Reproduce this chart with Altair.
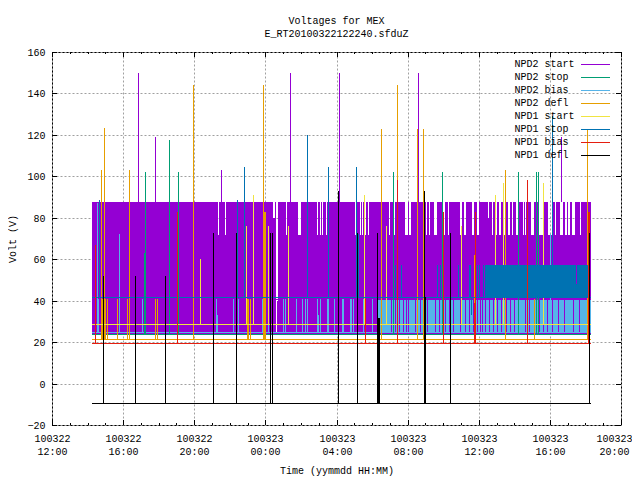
import altair as alt
import pandas as pd

FONT = "Liberation Mono"
START, END = 14.25, 42.30
PURPLE, GREEN, SKY, ORANGE = "#9400D3", "#009E73", "#56B4E9", "#E69F00"
YELLOW, BLUE, RED, BLACK = "#F0E442", "#0072B2", "#E51E10", "#000000"

names = ["NPD2 start", "NPD2 stop", "NPD2 bias", "NPD2 defl", "NPD1 start", "NPD1 stop", "NPD1 bias", "NPD1 defl"]
colors = [PURPLE, GREEN, SKY, ORANGE, YELLOW, BLUE, RED, BLACK]

# NPD2 start: dense band with gaps in its upper part
band_low, band_mid, band_top = 24.2, 71.7, 87.6
top_gaps = [(21.34,21.40,71.7),(21.73,21.79,71.7),(24.43,24.55,80),(24.60,24.71,40),(24.60,24.66,25),
            (25.16,25.22,71.7),(25.83,26.00,71.7),(26.90,26.96,71.7),(27.07,27.13,71.7),(27.18,27.24,71.7),
            (27.41,27.47,71.7),(29.04,29.17,71.7),(29.32,29.38,71.7),(29.43,29.51,71.7),(29.62,29.68,71.7),
            (29.79,29.83,71.7),(30.95,31.01,71.7),(31.23,31.31,71.7),(31.85,32.04,71.7),(32.10,32.17,71.7),
            (33.03,33.11,71.7),(33.20,33.26,71.7),(33.50,33.67,71.7),(34.01,34.08,71.7),(34.29,34.35,71.7),
            (34.95,35.06,71.7),(35.17,35.28,71.7),(35.62,35.75,71.7),(35.88,36.03,71.7),(36.54,36.58,80),
            (36.75,36.82,71.7),(36.93,37.01,71.7),(37.16,37.27,71.7),(37.38,37.53,71.7),(37.63,37.76,71.7),
            (37.85,37.95,71.7),(38.09,38.19,71.7),(38.47,38.54,71.7),(38.62,38.66,71.7),(38.92,39.11,71.7),
            (39.20,39.26,71.7),(39.37,39.67,71.7),(39.91,40.19,71.7),(40.29,40.35,71.7),(40.57,40.72,71.7),
            (40.85,40.94,71.7),(41.04,41.13,71.7),(41.26,41.41,71.7),(41.69,41.77,71.7)]
purple_spikes = [(16.85,150),(17.79,119),(21.50,103),(25.39,150),(28.14,150),(32.58,150),(40.63,119)]

# NPD2 bias
sky_base, sky_fill_top, sky_fill_from = 24.7, 40.7, 30.35
sky_spikes = [(14.61,41),(15.79,72),(17.04,41),(21.24,41),(21.29,33),(22.2,41),(22.48,41),(23.83,41),(24.13,41),
              (25.01,41),(25.10,41),(25.74,41),(26.08,41),(26.23,41),(26.36,41),(26.92,41),(26.97,33),(27.07,41),
              (27.45,41),(27.50,41),(27.88,41),(28.39,41),(28.31,41),(28.76,41),(28.81,41),(28.91,41),(29.51,41),(30.0,41),
              (14.53,87),(40.03,72)]
sky_gaps = [31.05,31.29,31.50,31.76,31.91,32.04,32.42,32.70,33.11,33.56,33.75,33.92,34.12,34.33,34.53,34.96,35.23,
            35.47,35.70,35.92,36.09,36.17,36.37,36.56,36.82,37.05,37.27,37.51,37.76,38.00,38.23,38.60,38.85,39.41,
            39.60,39.86,40.10,40.48,40.79,41.32,41.64]

# NPD2 stop
green_base = 23.8
green_spikes = [(17.25,102),(17.17,63),(17.20,63),(18.60,117.5),(19.10,102),(31.20,102),(33.95,102),(38.22,102),(39.24,102),(39.35,102)]

# NPD2 defl
orange_base = 21.4
orange_spikes = [(14.94,123.3),(14.77,103),(16.35,103),(19.95,144),(23.88,144),(23.92,83),(23.98,83),(30.52,123),(31.40,144),
                 (32.54,123),(32.88,123),(37.49,103),(42.11,123),(35.75,62),
                 (14.75,41),(14.83,41),(15.0,41),(15.08,41),(15.64,41),(16.24,41),(17.81,41),(17.92,41),
                 (22.95,41),(23.04,41),(23.14,41),(39.13,41)]

# NPD1 start
yellow_base = 28.6
yellow_spikes = [(23.32,91),(29.56,91),(30.80,76),(35.02,76),(36.93,91),(37.38,97),(39.63,97),(20.32,60),(25.29,76),(22.91,76),(24.16,76)]

# NPD1 stop
blue_base = 41.6
blue_band = (36.37, 42.16, 41.3, 57.2)
blue_short = [31.29,31.63,33.67,33.82,34.83,35.43,35.49,35.90,36.03,36.22]
blue_spikes = [(14.66,88.6),(22.81,104.5),(22.40,88.6),(26.36,120),(27.54,104.5),(29.10,104.5),(29.20,72),(31.39,88.6),(40.14,129),(35.56,33)]
blue_gap = (41.47, 48, 57.2)

# NPD1 bias
red_base = 19.6
red_spikes = [(14.42,67),(19.05,83),(31.40,98),(34.0,83),(35.73,39),(35.76,39),(35.79,83),(38.73,98),(29.62,41),(42.15,83),(42.18,83),(42.21,83)]

# NPD1 defl
black_base = -9.6
black_spikes = [(14.89,52),(16.68,52),(18.37,52),(21.07,72.5),(22.36,72.5),(24.28,72.5),(24.39,72.5),(28.10,93),(29.17,72.5),
                (30.30,72.5),(30.36,31.5),(30.38,31.5),(32.94,93),(32.97,41.8),(33.0,41.8),(34.40,72.5),(42.22,72.5)]

x_major = [12,16,20,24,28,32,36,40,44]
x_minor = [h for h in range(12,45) if h not in x_major]
date_labels = ["100322","100322","100322","100323","100323","100323","100323","100323","100323"]
time_labels = ["12:00","16:00","20:00","00:00","04:00","08:00","12:00","16:00","20:00"]
y_major = [-20,0,20,40,60,80,100,120,140,160]

xs = alt.Scale(domain=[12,44], round=True, nice=False, zero=False)
ys = alt.Scale(domain=[-20,160], round=True, nice=False, zero=False)
lab = {str(h): f"{d}|{t}" for h,d,t in zip(x_major,date_labels,time_labels)}
expr = "split(" + str(lab) + "[datum.label],'|')"

x_axis = alt.Axis(values=x_major, labelExpr=expr, grid=True, gridColor="#a0a0a0", gridDash=[2,2], gridOpacity=1,
                  ticks=False, domain=False, labelPadding=8, labelLineHeight=13.5, titlePadding=9,
                  labelOverlap=False, labelFlush=False, labelOffset=alt.expr("datum.value === 44 ? -7 : 0"))
y_axis = alt.Axis(values=y_major, grid=True, gridColor="#a0a0a0", gridDash=[2,2], gridOpacity=1,
                  ticks=False, domain=False, labelPadding=7, titlePadding=9)

X = alt.X("h:Q", scale=xs, axis=x_axis, title="Time (yymmdd HH:MM)")
Y = alt.Y("lo:Q", scale=ys, axis=y_axis, title="Volt (V)")

def vrules(rows, color, w=1):
    df = pd.DataFrame(rows, columns=["h","lo","hi"])
    return alt.Chart(df).mark_rule(color=color, strokeWidth=w, xOffset=0.5).encode(x=X, y=Y, y2="hi:Q")

def hrule(level, color, x0=START, x1=END):
    df = pd.DataFrame({"h":[x0],"h2":[x1],"lo":[level]})
    return alt.Chart(df).mark_rule(color=color, strokeWidth=1, yOffset=0.5).encode(x=X, x2="h2:Q", y=Y)

def rects(rows, color):
    df = pd.DataFrame(rows, columns=["h","h2","lo","hi"])
    return alt.Chart(df).mark_rect(color=color).encode(x=X, x2="h2:Q", y=Y, y2="hi:Q")

def spikes(pairs, lo, color):
    return vrules([(h,lo,t) for h,t in pairs], color)

# purple columns: the band between the gaps
segs = []
cur = START
full = sorted(g for g in top_gaps)
upper = [(a,b) for a,b,l in full]
for a,b in upper:
    if a > cur:
        segs.append((cur,a,band_mid,band_top))
    cur = max(cur,b)
segs.append((cur,END,band_mid,band_top))
segs.append((START,END,band_low,band_mid))
shallow = [(a,b,l,band_mid) for a,b,l in full if l < band_mid]
mid = [(a,b,band_mid,l) for a,b,l in full if l > band_mid]

layers = [
    rects(segs, PURPLE),
    rects(mid, PURPLE),
    rects(shallow, "#ffffff"),
    spikes(purple_spikes, band_top, PURPLE),
    rects([(sky_fill_from,END,sky_base,sky_fill_top)], SKY),
    vrules([(h,sky_base,sky_fill_top) for h in sky_gaps], PURPLE),
    hrule(41.0, PURPLE),
    hrule(band_low, PURPLE),
    spikes(sky_spikes, sky_base, SKY),
    hrule(sky_base, SKY),
    spikes(green_spikes, green_base, GREEN),
    hrule(green_base, GREEN),
    spikes(orange_spikes, orange_base, ORANGE),
    hrule(orange_base, ORANGE),
    spikes(yellow_spikes, yellow_base, YELLOW),
    hrule(yellow_base, YELLOW),
    rects([blue_band], BLUE),
    vrules([(blue_gap[0],blue_gap[1],blue_gap[2])], PURPLE),
    spikes([(h,57.2) for h in blue_short], blue_base, BLUE),
    spikes(blue_spikes, blue_base, BLUE),
    hrule(blue_base, BLUE),
    spikes(red_spikes, red_base, RED),
    hrule(red_base, RED),
    spikes(black_spikes, black_base, BLACK),
    hrule(black_base, BLACK),
]

# inward ticks on all four sides
tick_rows = []
for h in x_major:
    tick_rows += [(h,-20,-17.6),(h,157.6,160)]
for h in x_minor:
    tick_rows += [(h,-20,-18.8),(h,158.8,160)]
layers.append(vrules(tick_rows, BLACK))
ytick = pd.DataFrame([(12,12.28,v) for v in y_major]+[(43.72,44,v) for v in y_major], columns=["h","h2","lo"])
layers.append(alt.Chart(ytick).mark_rule(color=BLACK, strokeWidth=1, yOffset=0.5).encode(x=X, x2="h2:Q", y=Y))

# key, in gnuplot's layout: label then line sample
for i,(n,c) in enumerate(zip(names,colors)):
    py = 12 + 13*i
    layers.append(alt.Chart(pd.DataFrame({"t":[n]})).mark_text(font=FONT, fontSize=10, align="left", baseline="middle", color="#000000")
                  .encode(text="t:N", x=alt.value(462.5), y=alt.value(py)))
    layers.append(alt.Chart(pd.DataFrame({"t":[n]})).mark_rule(color=c, strokeWidth=1)
                  .encode(x=alt.value(529), x2=alt.value(558), y=alt.value(py + 0.5)))

chart = alt.layer(*layers).properties(
    width=569, height=373,
    title=alt.TitleParams(text=["Voltages for MEX","E_RT20100322122240.sfduZ"], font=FONT, fontSize=10, fontWeight="normal",
                          lineHeight=13, anchor="middle", offset=8, color="#000000"),
    padding={"left":44,"top":44,"right":11,"bottom":52},
    autosize=alt.AutoSizeParams(type="none"),
).configure_view(stroke="#000000", strokeWidth=1).configure_axis(
    labelFont=FONT, titleFont=FONT, labelFontSize=10, titleFontSize=10, titleFontWeight="normal", labelColor="#000000", titleColor="#000000"
)
chart.save("out.html", embed_options={"renderer": "svg", "actions": False})
